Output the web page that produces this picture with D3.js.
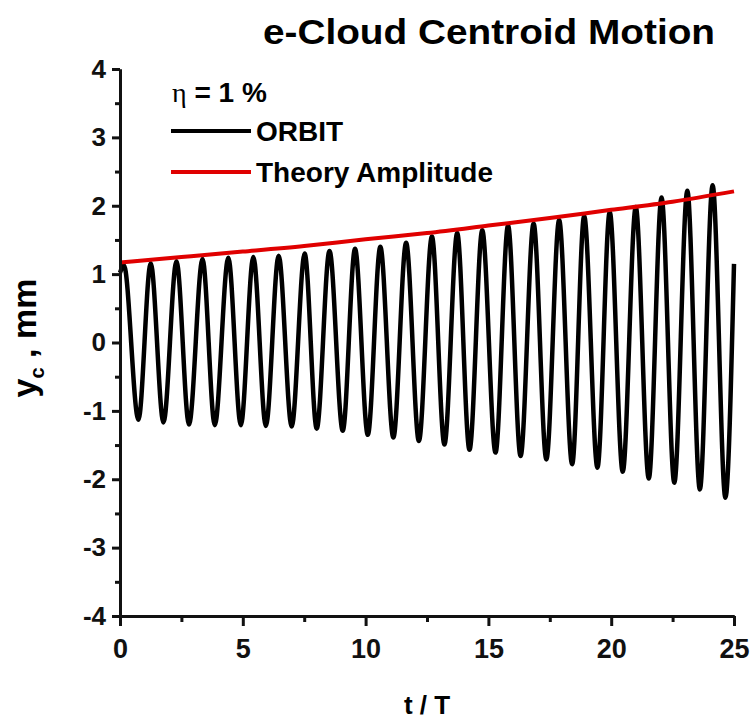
<!DOCTYPE html>
<html>
<head>
<meta charset="utf-8">
<script src="https://cdnjs.cloudflare.com/ajax/libs/d3/7.8.5/d3.min.js"></script>
<style>
  body { margin: 0; background: #fff; }
  svg { display: block; }
  .axis text { font-family: "Liberation Sans", Arial, sans-serif; font-weight: bold; fill: #111; }
  .axis path, .axis line { stroke: #111; stroke-width: 3; }
</style>
</head>
<body>
<div class="chart"></div>
<script>
// values
var peakT = [0.16, 1.25, 2.30, 3.36, 4.41, 5.43, 6.46, 7.52, 8.53, 9.57, 10.60, 11.65,
             12.70, 13.73, 14.75, 15.80, 16.84, 17.88, 18.90, 19.94, 21.00, 22.05, 23.10, 24.13];
var peakY = [1.13, 1.16, 1.19, 1.22, 1.24, 1.25, 1.27, 1.30, 1.34, 1.37, 1.40, 1.46,
             1.55, 1.60, 1.64, 1.71, 1.74, 1.79, 1.85, 1.91, 1.98, 2.12, 2.22, 2.30];
var troughT = [0.75, 1.77, 2.81, 3.86, 4.92, 5.94, 6.99, 8.01, 9.07, 10.09, 11.13, 12.17,
               13.21, 14.23, 15.29, 16.31, 17.36, 18.41, 19.44, 20.47, 21.53, 22.57, 23.61, 24.65];
var troughY = [-1.13, -1.17, -1.20, -1.21, -1.21, -1.22, -1.23, -1.26, -1.29, -1.35, -1.39, -1.44,
               -1.49, -1.57, -1.61, -1.66, -1.71, -1.78, -1.83, -1.89, -1.99, -2.05, -2.15, -2.27];
var orbitStart = [0, 1.02];
var orbitEnd = [25, 1.15];

var theoryT = [0, 2.5, 5, 7.5, 10, 12.5, 15, 17.5, 20, 22.5, 25];
var theoryY = [1.17, 1.25, 1.33, 1.41, 1.51, 1.60, 1.71, 1.82, 1.94, 2.06, 2.21];

var xTicks = [0, 5, 10, 15, 20, 25];
var xMinor = [2.5, 7.5, 12.5, 17.5, 22.5];
var yTicks = [-4, -3, -2, -1, 0, 1, 2, 3, 4];
var yMinor = [-3.5, -2.5, -1.5, -0.5, 0.5, 1.5, 2.5, 3.5];

var width = 752, height = 719;
var margin = { top: 69, right: 18, bottom: 103, left: 120 };

var svg = d3.select(".chart").append("svg")
    .attr("width", width)
    .attr("height", height);

var x = d3.scaleLinear().domain([0, 25]).range([margin.left, width - margin.right]);
var y = d3.scaleLinear().domain([-4, 4]).range([height - margin.bottom, margin.top]);

// orbit series: extrema in time order
var orbit = [orbitStart];
peakT.forEach(function (t, i) {
    orbit.push([t, peakY[i]]);
    orbit.push([troughT[i], troughY[i]]);
});
orbit.push(orbitEnd);
orbit.sort(function (a, b) { return a[0] - b[0]; });

var orbitLine = d3.line()
    .x(d => x(d[0]))
    .y(d => y(d[1]))
    .curve(d3.curveMonotoneX);

svg.append("path")
    .datum(orbit)
    .attr("d", orbitLine)
    .attr("fill", "none")
    .attr("stroke", "#000")
    .attr("stroke-width", 4.5)
    .attr("stroke-linejoin", "round");

var theory = theoryT.map((t, i) => [t, theoryY[i]]);
svg.append("path")
    .datum(theory)
    .attr("d", d3.line().x(d => x(d[0])).y(d => y(d[1])).curve(d3.curveNatural))
    .attr("fill", "none")
    .attr("stroke", "#e00000")
    .attr("stroke-width", 4);

// axes
var xAxis = svg.append("g")
    .attr("class", "axis")
    .attr("transform", "translate(0," + y(-4) + ")")
    .call(d3.axisBottom(x).tickValues(xTicks).tickFormat(d => String(d))
        .tickSize(10).tickSizeOuter(0).tickPadding(13));
xAxis.selectAll("text").attr("font-size", 27);
svg.append("g")
    .attr("class", "axis")
    .attr("transform", "translate(0," + y(-4) + ")")
    .call(d3.axisBottom(x).tickValues(xMinor).tickSize(6).tickSizeOuter(0).tickFormat(""));

var yAxis = svg.append("g")
    .attr("class", "axis")
    .attr("transform", "translate(" + x(0) + ",0)")
    .call(d3.axisLeft(y).tickValues(yTicks).tickFormat(d => String(d))
        .tickSize(8).tickSizeOuter(0).tickPadding(6));
yAxis.selectAll("text").attr("font-size", 26);
svg.append("g")
    .attr("class", "axis")
    .attr("transform", "translate(" + x(0) + ",0)")
    .call(d3.axisLeft(y).tickValues(yMinor).tickSize(5).tickSizeOuter(0).tickFormat(""));

// title and axis labels
var font = '"Liberation Sans", Arial, sans-serif';

svg.append("text")
    .attr("x", 263).attr("y", 44)
    .attr("font-family", font).attr("font-weight", "bold").attr("font-size", 35)
    .attr("textLength", 452).attr("lengthAdjust", "spacingAndGlyphs")
    .text("e-Cloud Centroid Motion");

svg.append("text")
    .attr("x", (x(0) + x(25)) / 2).attr("y", 714)
    .attr("text-anchor", "middle")
    .attr("font-family", font).attr("font-weight", "bold").attr("font-size", 26)
    .text("t / T");

var yl = svg.append("text")
    .attr("transform", "translate(36," + 338 + ") rotate(-90)")
    .attr("text-anchor", "middle")
    .attr("font-family", font).attr("font-weight", "bold").attr("font-size", 34);
yl.append("tspan").text("y");
yl.append("tspan").attr("font-size", 20).attr("dy", 8).text("c");
yl.append("tspan").attr("dy", -8).text(" , mm");

// legend
var eta = svg.append("text")
    .attr("x", 172).attr("y", 102)
    .attr("font-size", 28);
eta.append("tspan").attr("font-family", '"Liberation Serif", "DejaVu Serif", serif').text("η");
eta.append("tspan").attr("font-family", font).attr("font-weight", "bold").text(" = 1 %");

var legend = [
    { label: "ORBIT", color: "#000", y: 131 },
    { label: "Theory Amplitude", color: "#e00000", y: 172 }
];
var lg = svg.selectAll(".legend")
    .data(legend)
    .enter().append("g")
    .attr("class", "legend");
lg.append("line")
    .attr("x1", 171).attr("x2", 251)
    .attr("y1", d => d.y).attr("y2", d => d.y)
    .attr("stroke", d => d.color)
    .attr("stroke-width", 4);
lg.append("text")
    .attr("x", 256).attr("y", d => d.y + 10)
    .attr("font-family", font).attr("font-weight", "bold").attr("font-size", 28)
    .text(d => d.label);
</script>
</body>
</html>
